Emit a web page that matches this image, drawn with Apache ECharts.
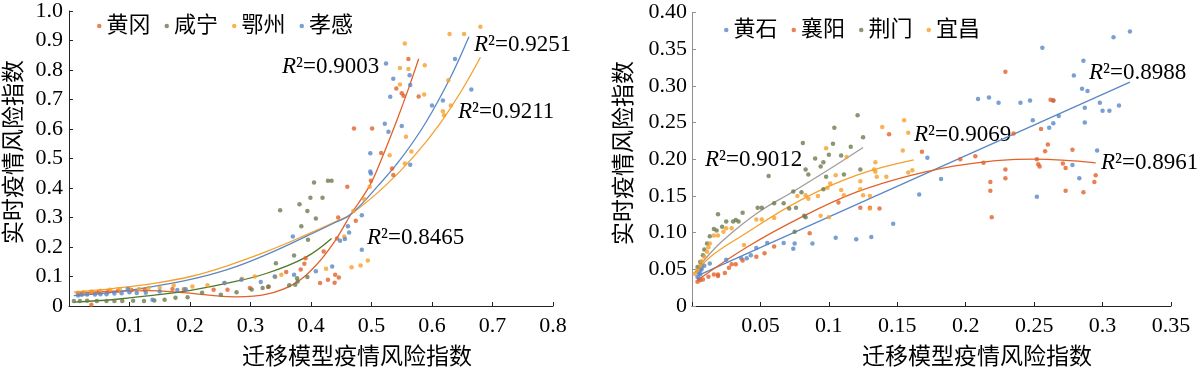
<!DOCTYPE html>
<html>
<head>
<meta charset="utf-8">
<script src="https://cdn.jsdelivr.net/npm/echarts@6/dist/echarts.min.js"></script>
<style>
html,body{margin:0;padding:0;background:#fff;}
#c{width:1200px;height:372px;}
</style>
</head>
<body>
<div id="c"></div>
<script>
// ---------- Left panel data ----------
const leftNames = ['黄冈', '咸宁', '鄂州', '孝感'];
const huanggang = [[0.015,0.042],[0.024,0.044],[0.037,0.045],[0.049,0.047],[0.065,0.049],[0.081,0.052],[0.103,0.054],[0.125,0.055],[0.037,0.004],[0.171,0.058],[0.190,0.057],[0.239,0.055],[0.262,0.055],[0.299,0.061],[0.329,0.064],[0.359,0.115],[0.383,0.124],[0.389,0.143],[0.391,0.162],[0.415,0.078],[0.428,0.089],[0.439,0.079],[0.440,0.106],[0.446,0.097],[0.421,0.185],[0.445,0.300],[0.474,0.289],[0.460,0.404],[0.443,0.229],[0.499,0.425],[0.471,0.602],[0.501,0.602],[0.516,0.519],[0.534,0.466],[0.536,0.444],[0.541,0.737],[0.550,0.721],[0.553,0.713],[0.561,0.837],[0.578,0.710]];
const xianning = [[0.008,0.017],[0.018,0.017],[0.030,0.018],[0.046,0.017],[0.062,0.017],[0.075,0.017],[0.088,0.017],[0.106,0.018],[0.124,0.017],[0.141,0.019],[0.158,0.021],[0.176,0.028],[0.196,0.030],[0.220,0.045],[0.251,0.038],[0.277,0.047],[0.302,0.056],[0.320,0.061],[0.330,0.066],[0.342,0.145],[0.349,0.325],[0.364,0.070],[0.372,0.171],[0.374,0.072],[0.377,0.094],[0.378,0.083],[0.381,0.345],[0.384,0.270],[0.394,0.322],[0.394,0.098],[0.395,0.225],[0.399,0.367],[0.405,0.419],[0.408,0.297],[0.419,0.367],[0.428,0.425],[0.434,0.425]];
const ezhou = [[0.015,0.045],[0.024,0.047],[0.037,0.049],[0.052,0.052],[0.068,0.055],[0.084,0.056],[0.100,0.057],[0.116,0.058],[0.131,0.060],[0.150,0.062],[0.173,0.070],[0.204,0.066],[0.229,0.070],[0.257,0.078],[0.286,0.092],[0.307,0.100],[0.341,0.098],[0.351,0.106],[0.425,0.126],[0.455,0.236],[0.467,0.131],[0.470,0.322],[0.482,0.137],[0.488,0.362],[0.494,0.154],[0.497,0.404],[0.530,0.511],[0.555,0.483],[0.566,0.524],[0.557,0.574],[0.547,0.751],[0.547,0.807],[0.561,0.803],[0.555,0.890],[0.587,0.717],[0.588,0.816],[0.618,0.660],[0.620,0.647],[0.627,0.765],[0.631,0.680],[0.629,0.922],[0.653,0.922],[0.680,0.947]];
const xiaogan = [[0.015,0.036],[0.021,0.038],[0.030,0.039],[0.043,0.039],[0.052,0.040],[0.062,0.040],[0.075,0.042],[0.087,0.043],[0.097,0.058],[0.100,0.047],[0.112,0.044],[0.127,0.045],[0.138,0.021],[0.150,0.049],[0.179,0.054],[0.193,0.057],[0.257,0.078],[0.285,0.089],[0.317,0.081],[0.340,0.100],[0.370,0.236],[0.372,0.106],[0.408,0.118],[0.435,0.134],[0.448,0.221],[0.456,0.227],[0.461,0.270],[0.463,0.249],[0.484,0.308],[0.484,0.191],[0.498,0.518],[0.498,0.456],[0.499,0.449],[0.522,0.618],[0.528,0.591],[0.550,0.610],[0.564,0.479],[0.524,0.822],[0.536,0.770],[0.531,0.709],[0.563,0.782],[0.564,0.749],[0.600,0.680],[0.618,0.697],[0.638,0.837],[0.665,0.734]];
// trend lines
const huanggangTrend = [[0.011,0.044],[0.075,0.050],[0.13,0.052],[0.188,0.045],[0.239,0.035],[0.277,0.031],[0.327,0.040],[0.372,0.075],[0.409,0.140],[0.441,0.225],[0.466,0.311],[0.497,0.408],[0.517,0.500],[0.542,0.630],[0.560,0.730],[0.578,0.838]];
const xianningTrend = [[0.008,0.013],[0.075,0.022],[0.138,0.036],[0.201,0.053],[0.264,0.078],[0.327,0.111],[0.391,0.165],[0.434,0.229]];
const ezhouTrend = [[0.008,0.047],[0.075,0.060],[0.138,0.076],[0.201,0.100],[0.264,0.138],[0.327,0.185],[0.391,0.240],[0.440,0.285],[0.466,0.311],[0.523,0.408],[0.570,0.507],[0.612,0.615],[0.650,0.734],[0.680,0.843]];
const xiaoganTrend = [[0.008,0.035],[0.075,0.047],[0.138,0.066],[0.201,0.090],[0.264,0.125],[0.327,0.175],[0.391,0.235],[0.440,0.283],[0.466,0.311],[0.511,0.408],[0.550,0.503],[0.590,0.623],[0.630,0.773],[0.661,0.913]];
const leftR2 = ['0.9003', '0.9251', '0.9211', '0.8465'];
const leftXTicks = [0.1, 0.2, 0.3, 0.4, 0.5, 0.6, 0.7, 0.8];

// ---------- Right panel data ----------
const rightNames = ['黄石', '襄阳', '荆门', '宜昌'];
const huangshi = [[0.004,0.040],[0.005,0.045],[0.006,0.048],[0.005,0.037],[0.007,0.050],[0.006,0.043],[0.007,0.053],[0.009,0.055],[0.013,0.058],[0.025,0.063],[0.036,0.065],[0.040,0.065],[0.043,0.069],[0.047,0.079],[0.055,0.086],[0.067,0.086],[0.074,0.078],[0.075,0.085],[0.088,0.085],[0.105,0.093],[0.120,0.091],[0.131,0.094],[0.147,0.112],[0.166,0.152],[0.172,0.202],[0.182,0.173],[0.209,0.282],[0.217,0.284],[0.224,0.277],[0.240,0.277],[0.247,0.280],[0.249,0.253],[0.252,0.149],[0.256,0.352],[0.261,0.243],[0.264,0.249],[0.264,0.280],[0.268,0.259],[0.278,0.192],[0.279,0.314],[0.283,0.174],[0.285,0.296],[0.286,0.334],[0.287,0.270],[0.287,0.250],[0.289,0.293],[0.296,0.212],[0.298,0.277],[0.300,0.266],[0.305,0.266],[0.308,0.366],[0.312,0.273],[0.320,0.374]];
const xiangyang = [[0.004,0.033],[0.006,0.035],[0.008,0.036],[0.012,0.040],[0.016,0.043],[0.019,0.043],[0.019,0.041],[0.024,0.045],[0.027,0.052],[0.029,0.057],[0.032,0.057],[0.037,0.062],[0.047,0.067],[0.053,0.072],[0.060,0.081],[0.086,0.099],[0.107,0.141],[0.123,0.134],[0.130,0.134],[0.137,0.133],[0.144,0.234],[0.168,0.210],[0.196,0.200],[0.207,0.204],[0.213,0.195],[0.218,0.157],[0.218,0.169],[0.219,0.121],[0.229,0.319],[0.229,0.186],[0.229,0.174],[0.235,0.235],[0.252,0.200],[0.253,0.193],[0.254,0.190],[0.255,0.241],[0.258,0.211],[0.260,0.220],[0.262,0.281],[0.264,0.280],[0.271,0.194],[0.273,0.188],[0.273,0.157],[0.278,0.213],[0.286,0.155],[0.294,0.169],[0.295,0.178]];
const jingmen = [[0.004,0.053],[0.006,0.060],[0.008,0.069],[0.009,0.077],[0.011,0.085],[0.013,0.095],[0.016,0.105],[0.018,0.103],[0.019,0.125],[0.022,0.108],[0.025,0.115],[0.030,0.115],[0.032,0.117],[0.034,0.115],[0.037,0.127],[0.048,0.134],[0.051,0.134],[0.056,0.177],[0.060,0.140],[0.067,0.140],[0.071,0.133],[0.074,0.156],[0.075,0.101],[0.076,0.134],[0.080,0.155],[0.081,0.222],[0.082,0.123],[0.083,0.121],[0.083,0.186],[0.085,0.179],[0.090,0.201],[0.094,0.190],[0.096,0.196],[0.096,0.159],[0.098,0.176],[0.100,0.206],[0.103,0.221],[0.104,0.243],[0.109,0.205],[0.111,0.179],[0.116,0.217],[0.121,0.260],[0.123,0.186],[0.125,0.230]];
const yichang = [[0.002,0.044],[0.004,0.049],[0.006,0.055],[0.007,0.061],[0.009,0.067],[0.011,0.074],[0.012,0.080],[0.013,0.085],[0.016,0.096],[0.019,0.096],[0.023,0.101],[0.025,0.106],[0.029,0.106],[0.038,0.083],[0.047,0.118],[0.051,0.118],[0.060,0.120],[0.077,0.150],[0.083,0.151],[0.085,0.146],[0.092,0.150],[0.094,0.123],[0.098,0.215],[0.099,0.161],[0.100,0.121],[0.101,0.167],[0.105,0.178],[0.109,0.158],[0.111,0.151],[0.113,0.203],[0.123,0.159],[0.123,0.170],[0.125,0.151],[0.130,0.133],[0.130,0.150],[0.133,0.186],[0.134,0.196],[0.134,0.183],[0.135,0.176],[0.139,0.244],[0.142,0.176],[0.154,0.212],[0.155,0.253],[0.158,0.236],[0.158,0.182],[0.161,0.185]];
const huangshiTrend = [[0.005,0.042],[0.320,0.305]];
const xiangyangTrend = [[0.004,0.035],[0.040,0.080],[0.080,0.121],[0.120,0.155],[0.160,0.178],[0.200,0.193],[0.250,0.200],[0.295,0.195]];
const jingmenTrend = [[0.002,0.045],[0.010,0.065],[0.023,0.090],[0.048,0.127],[0.074,0.156],[0.100,0.186],[0.125,0.216]];
const yichangTrend = [[0.0026,0.045],[0.0135,0.067],[0.035,0.094],[0.079,0.144],[0.120,0.178],[0.162,0.199]];
const rightR2 = ['0.9012', '0.9069', '0.8988', '0.8961'];
const rightXTicks = [0.05, 0.1, 0.15, 0.2, 0.25, 0.3, 0.35];

// ---------- styling ----------
const RED = '#E2622B', OLIVE = '#6C7C4E', ORANGE = '#F5A02C', BLUE = '#5A87C6';
const GREENLINE = '#4E7A26', GRAYLINE = '#A19C9A';
const SERIF = '"Liberation Serif", "Times New Roman", serif';
const CJK = '"Liberation Serif", "Noto Sans CJK SC", serif';

const chart = echarts.init(document.getElementById('c'));

function scatter(name, data, color, idx) {
  return { name, type: 'scatter', data, xAxisIndex: idx, yAxisIndex: idx, symbol: 'circle', symbolSize: 4.5,
    itemStyle: { color }, z: 3, silent: true };
}
function trend(data, color, idx) {
  return { type: 'line', data, xAxisIndex: idx, yAxisIndex: idx, smooth: 0.4, showSymbol: false,
    lineStyle: { color, width: 1.3 }, z: 2, silent: true };
}
function r2(text, x, y) {
  return { type: 'text', x, y, style: {
    text: '{r|R}{n|²=' + text + '}', rich: {
      r: { fontFamily: SERIF, fontStyle: 'italic', fontSize: 23, fill: '#000' },
      n: { fontFamily: SERIF, fontSize: 23, fill: '#000' } },
    align: 'left', verticalAlign: 'middle' } };
}
const axisLabelBase = { fontFamily: SERIF, fontSize: 22, color: '#000' };

chart.setOption({
  animation: false,
  backgroundColor: '#fff',
  grid: [
    { left: 69, right: 647, top: 9, bottom: 66 },
    { left: 692, right: 29, top: 12.4, bottom: 66 }
  ],
  xAxis: [
    { gridIndex: 0, type: 'value', min: 0, max: 0.8, interval: 0.1,
      axisLine: { lineStyle: { color: '#222', width: 1 } },
      axisTick: { inside: true, length: 4, lineStyle: { color: '#222' } },
      splitLine: { show: false },
      axisLabel: Object.assign({ margin: 9, formatter: v => leftXTicks.some(t => Math.abs(t - v) < 1e-9) ? v.toFixed(1) : '' }, axisLabelBase) },
    { gridIndex: 1, type: 'value', min: 0, max: 0.35, interval: 0.05,
      axisLine: { lineStyle: { color: '#222', width: 1 } },
      axisTick: { inside: true, length: 4, lineStyle: { color: '#222' } },
      splitLine: { show: false },
      axisLabel: Object.assign({ margin: 9, formatter: v => rightXTicks.some(t => Math.abs(t - v) < 1e-9) ? String(+v.toFixed(2)) : '' }, axisLabelBase) }
  ],
  yAxis: [
    { gridIndex: 0, type: 'value', min: 0, max: 1, interval: 0.1,
      axisLine: { show: true, lineStyle: { color: '#222', width: 1 } },
      axisTick: { show: true, inside: true, length: 4, lineStyle: { color: '#222' } },
      splitLine: { show: false },
      axisLabel: Object.assign({ margin: 6, formatter: v => v === 0 ? '0' : v.toFixed(1) }, axisLabelBase) },
    { gridIndex: 1, type: 'value', min: 0, max: 0.4, interval: 0.05,
      axisLine: { show: true, lineStyle: { color: '#8f8f8f', width: 1 } },
      axisTick: { show: true, inside: true, length: 4, lineStyle: { color: '#8f8f8f' } },
      splitLine: { show: false },
      axisLabel: Object.assign({ margin: 5, formatter: v => v === 0 ? '0' : v.toFixed(2) }, axisLabelBase) }
  ],
  legend: [
    { data: leftNames, left: 92, top: 10, icon: 'circle', itemWidth: 4.5, itemHeight: 4.5, itemGap: 14,
      selectedMode: false, textStyle: { fontFamily: CJK, fontSize: 22, color: '#000' } },
    { data: rightNames, left: 719, top: 14, icon: 'circle', itemWidth: 4.5, itemHeight: 4.5, itemGap: 14,
      selectedMode: false, textStyle: { fontFamily: CJK, fontSize: 22, color: '#000' } }
  ],
  series: [
    trend(huanggangTrend, RED, 0),
    trend(xianningTrend, GREENLINE, 0),
    trend(ezhouTrend, ORANGE, 0),
    trend(xiaoganTrend, BLUE, 0),
    scatter(leftNames[0], huanggang, RED, 0),
    scatter(leftNames[1], xianning, OLIVE, 0),
    scatter(leftNames[2], ezhou, ORANGE, 0),
    scatter(leftNames[3], xiaogan, BLUE, 0),
    trend(huangshiTrend, BLUE, 1),
    trend(xiangyangTrend, RED, 1),
    trend(jingmenTrend, GRAYLINE, 1),
    trend(yichangTrend, ORANGE, 1),
    scatter(rightNames[0], huangshi, BLUE, 1),
    scatter(rightNames[1], xiangyang, RED, 1),
    scatter(rightNames[2], jingmen, OLIVE, 1),
    scatter(rightNames[3], yichang, ORANGE, 1)
  ],
  graphic: [
    { type: 'text', x: 357, y: 358, style: { text: '迁移模型疫情风险指数', fontFamily: CJK, fontSize: 23, fill: '#000', align: 'center', verticalAlign: 'middle' } },
    { type: 'text', x: 977, y: 358, style: { text: '迁移模型疫情风险指数', fontFamily: CJK, fontSize: 23, fill: '#000', align: 'center', verticalAlign: 'middle' } },
    { type: 'text', x: 15, y: 152, rotation: Math.PI / 2, style: { text: '实时疫情风险指数', fontFamily: CJK, fontSize: 23, fill: '#000', align: 'center', verticalAlign: 'middle' } },
    { type: 'text', x: 625, y: 153, rotation: Math.PI / 2, style: { text: '实时疫情风险指数', fontFamily: CJK, fontSize: 23, fill: '#000', align: 'center', verticalAlign: 'middle' } },
    r2(leftR2[0], 282, 67),
    r2(leftR2[1], 474, 45),
    r2(leftR2[2], 458, 112),
    r2(leftR2[3], 367, 238),
    r2(rightR2[0], 705, 160),
    r2(rightR2[1], 914, 135),
    r2(rightR2[2], 1089, 73),
    r2(rightR2[3], 1101, 163)
  ]
});
</script>
</body>
</html>
